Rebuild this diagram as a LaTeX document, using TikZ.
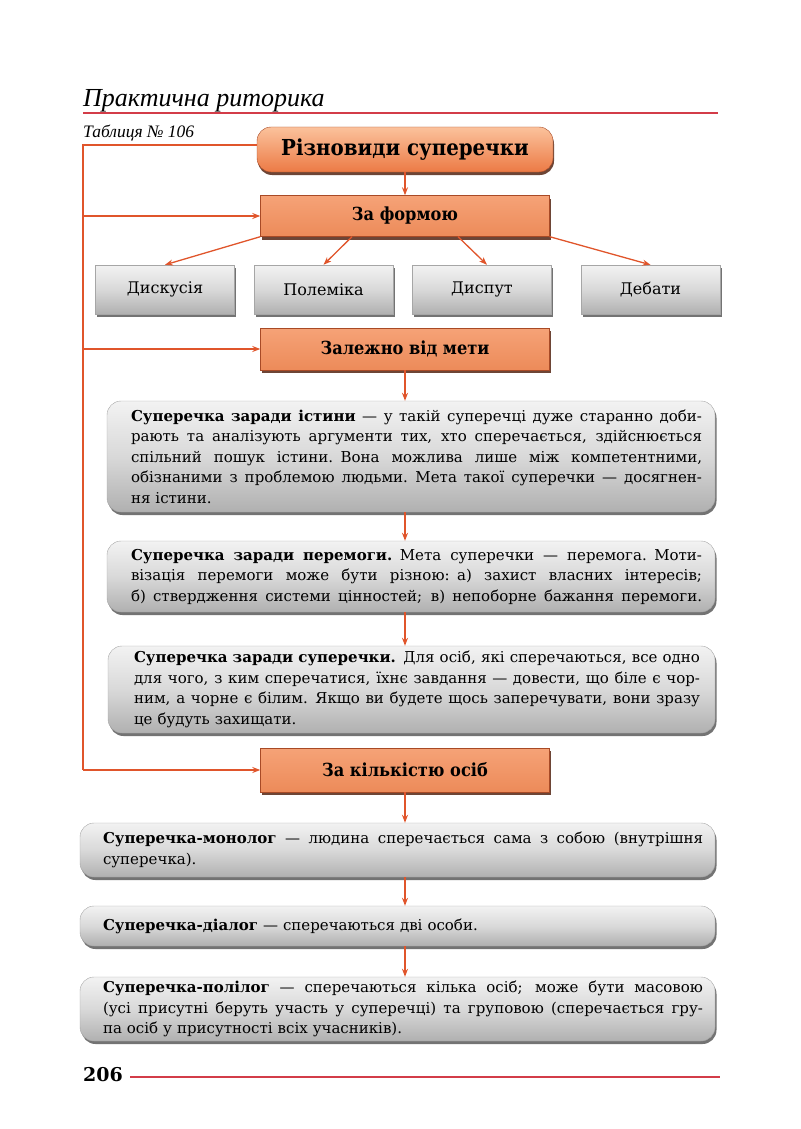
\documentclass[tikz,border=0pt]{standalone}
\usepackage{fontspec}
\setmainfont{DejaVu Serif}
\newfontfamily\hdrfont{Liberation Serif}
\newfontfamily\condf{DejaVu Serif Condensed}
\usetikzlibrary{arrows.meta,shadows,calc}
\definecolor{arrc}{HTML}{E0552B}
\definecolor{redl}{HTML}{D33C48}
\definecolor{orT}{HTML}{FBC29C}
\definecolor{orB}{HTML}{EC7A45}
\definecolor{orR}{HTML}{F4925F}
\definecolor{orD}{HTML}{A84A26}
\newdimen\tw
\newdimen\lm
\newcommand\jline[1]{\hbox to \tw{\spaceskip=0.3em plus 1em minus 0.1em\relax\hskip\lm #1}}
\newcommand\lline[1]{\hbox{\hskip\lm #1}}
\tikzset{
  arr/.style={draw=arrc, line width=1.3pt, -{Stealth[length=8pt,width=6pt]}},
  spine/.style={draw=arrc, line width=1.3pt},
  obase/.style={draw=orD, line width=0.4pt,
    drop shadow={shadow xshift=1pt, shadow yshift=-3pt, fill=orD!50!black, opacity=0.85}},
  topbox/.style={obase, rounded corners=14pt, top color=orT, bottom color=orB,
    minimum width=296pt, minimum height=45pt, font=\condf\fontsize{22}{26}\selectfont\bfseries},
  obox/.style={obase, rectangle, top color=orR!85!white, bottom color=orR!90!orD,
    minimum width=289pt, minimum height=41pt, font=\condf\fontsize{18}{21}\selectfont\bfseries},
  gbase/.style={draw=gray!70, line width=0.4pt, top color=gray!10, bottom color=gray!62, middle color=gray!30,
    drop shadow={shadow xshift=1.5pt, shadow yshift=-3pt, fill=black, opacity=0.55}},
  sbox/.style={gbase, rectangle, minimum width=139pt, minimum height=49pt,
    font=\fontsize{16}{19}\selectfont},
  tbox/.style={gbase, rounded corners=14pt, inner sep=0pt, text width=#1,
    font=\fontsize{15}{20.5}\selectfont}
}
\begin{document}
\begin{tikzpicture}[x=1pt,y=-1pt]
\useasboundingbox (0,0) rectangle (800,1129);
% header
\node[anchor=base west, inner sep=0pt, font=\hdrfont\itshape\fontsize{26}{30}\selectfont] (hdr) at (83,107) {Практична риторика};
\draw[redl, line width=1.5pt] (83,113) -- (718,113);
\node[anchor=base west, inner sep=0pt, font=\hdrfont\itshape\fontsize{17.5}{20}\selectfont] (tab) at (83,138) {Таблиця № 106};
% footer
\node[anchor=base west, inner sep=0pt, font=\bfseries\fontsize{19}{22}\selectfont] (pg) at (83,1081) {206};
\draw[redl, line width=1.5pt] (130,1077) -- (720,1077);

% nodes
\node[topbox] (top) at (405,149.5) {Різновиди суперечки};
\node[obox] (form) at (405,216) {За формою};
\node[sbox] (disc) at (165,289.5) {Дискусія};
\node[sbox] (pol) at (323.5,289.5) {Полеміка};
\node[sbox] (disp) at (482,289.5) {Диспут};
\node[sbox] (deb) at (650.5,289.5) {Дебати};
\node[obox, minimum height=42pt] (meta) at (405,349) {Залежно від мети};

\global\tw=582pt \global\lm=11pt
\node[tbox=582pt, minimum width=608pt, minimum height=111pt] (t1) at (411,456.5) {%
\jline{\textbf{Суперечка заради істини} — у такій суперечці дуже старанно доби-}
\jline{рають та аналізують аргументи тих, хто сперечається, здійснюється}
\jline{спільний пошук істини. Вона можлива лише між компетентними,}
\jline{обізнаними з проблемою людьми. Мета такої суперечки — досягнен-}
\lline{ня істини.}};

\node[tbox=582pt, minimum width=608pt, minimum height=71pt] (t2) at (411,576.5) {%
\jline{\textbf{Суперечка заради перемоги.} Мета суперечки — перемога. Моти-}
\jline{візація перемоги може бути різною: а) захист власних інтересів;}
\jline{б) ствердження системи цінностей; в) непоборне бажання перемоги.}};

\global\tw=577pt
\node[tbox=577pt, minimum width=607pt, minimum height=87pt] (t3) at (411.5,689.5) {%
\jline{\textbf{Суперечка заради суперечки.} Для осіб, які сперечаються, все одно}
\jline{для чого, з ким сперечатися, їхнє завдання — довести, що біле є чор-}
\jline{ним, а чорне є білим. Якщо ви будете щось заперечувати, вони зразу}
\lline{це будуть захищати.}};

\node[obox, minimum height=44pt] (kil) at (405,770) {За кількістю осіб};

\global\tw=611pt
\node[tbox=611pt, minimum width=635pt, minimum height=54pt] (t4) at (397.5,850) {%
\jline{\textbf{Суперечка-монолог} — людина сперечається сама з собою (внутрішня}
\lline{суперечка).}};

\node[tbox=611pt, minimum width=635pt, minimum height=40pt] (t5) at (397.5,926) {%
\lline{\textbf{Суперечка-діалог} — сперечаються дві особи.}};

\node[tbox=611pt, minimum width=635pt, minimum height=64pt] (t6) at (397.5,1009) {%
\jline{\textbf{Суперечка-полілог} — сперечаються кілька осіб; може бути масовою}
\jline{(усі присутні беруть участь у суперечці) та груповою (сперечається гру-}
\lline{па осіб у присутності всіх учасників).}};

% spine
\coordinate (b0) at (83,145);
\coordinate (b1) at (83,216);
\coordinate (b2) at (83,349);
\coordinate (b3) at (83,770);
\draw[spine] (b0 -| top.west) -- (b0) -- (b3);
\draw[arr] (b1) -- (form.west);
\draw[arr] (b2) -- (meta.west);
\draw[arr] (b3) -- (kil.west);

% vertical arrows
\draw[arr] (top.south -| form.north) -- (form.north);
\draw[arr] (form.south west) -- (disc.north);
\draw[arr] ([xshift=-53pt]form.south) -- (pol.north);
\draw[arr] ([xshift=53pt]form.south) -- ([xshift=5pt]disp.north);
\draw[arr] (form.south east) -- (deb.north);
\draw[arr] (meta.south) -- (meta.south |- t1.north);
\draw[arr] (t1.south -| meta.south) -- (t2.north -| meta.south);
\draw[arr] (t2.south -| meta.south) -- (t3.north -| meta.south);
\draw[arr] (kil.south) -- (kil.south |- t4.north);
\draw[arr] (t4.south -| kil.south) -- (t5.north -| kil.south);
\draw[arr] (t5.south -| kil.south) -- (t6.north -| kil.south);
\end{tikzpicture}
\end{document}
